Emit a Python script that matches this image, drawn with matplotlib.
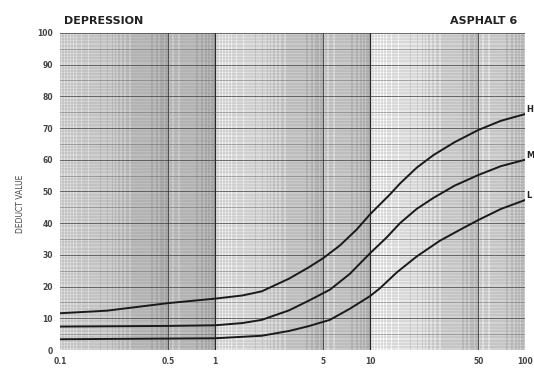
import numpy as np
import matplotlib.pyplot as plt

# values
x_h = [0.1, 0.2, 0.5, 1, 1.5, 2, 3, 4, 5, 6.4, 8.2, 10, 13.4, 15.6, 20, 25.7, 35, 50, 70, 100]
y_h = [11.6, 12.4, 14.8, 16.2, 17.2, 18.5, 22.5, 26, 29, 33, 38, 42.8, 49, 52.5, 57.5, 61.5, 65.5, 69.4, 72.3, 74.4]
x_m = [0.1, 0.5, 1, 1.5, 2, 3, 4, 5.5, 7.4, 10, 12.8, 15.6, 20, 25.7, 35, 50, 70, 100]
y_m = [7.4, 7.6, 7.8, 8.5, 9.5, 12.5, 15.5, 19, 24, 30.5, 35.5, 40, 44.5, 48, 51.8, 55.2, 58, 60]
x_l = [0.1, 1, 2, 3, 4, 5.5, 7.4, 10, 11.6, 14.9, 20, 28.3, 40, 50, 70, 100]
y_l = [3.4, 3.7, 4.5, 6, 7.5, 9.5, 13, 17, 19.5, 24.5, 29.5, 34.5, 38.5, 41, 44.5, 47.3]
curve_labels = ['H', 'M', 'L']
xtick_vals = [0.1, 0.5, 1, 5, 10, 50, 100]
xtick_text = ['0.1', '0.5', '1', '5', '10', '50', '100']

fig = plt.figure(figsize=(5.34, 3.70), dpi=100)
ax = fig.add_axes([0.1124, 0.054, 0.8708, 0.857])
ax.set_xscale('log')
ax.set_xlim(0.1, 100)
ax.set_ylim(0, 100)

# graph paper: evenly spaced mantissa lines get denser (darker) toward each decade end
ax.axvspan(0.1, 1, color='#888888', alpha=0.22, lw=0, zorder=0)
ax.axvspan(1, 10, color='#999999', alpha=0.1, lw=0, zorder=0)
vlines = []
for dec in [0.1, 1, 10]:
    for m in np.arange(1.0, 5.0, 0.05):
        vlines.append(m * dec)
    for m in np.arange(5.0, 10.0, 0.1):
        vlines.append(m * dec)
for v in vlines:
    ax.axvline(v, color='#3c3c3c', lw=0.35, alpha=0.5, zorder=0)
for v in [0.5, 5, 50]:
    ax.axvline(v, color='#333333', lw=0.8, alpha=0.8, zorder=0)
for v in [1, 10]:
    ax.axvline(v, color='#222222', lw=0.9, zorder=0)

for yy in np.arange(0, 100.5, 1):
    if yy % 10 == 0:
        ax.axhline(yy, color='#333333', lw=0.6, alpha=0.8, zorder=0)
    elif yy % 5 == 0:
        ax.axhline(yy, color='#555555', lw=0.45, alpha=0.7, zorder=0)
    else:
        ax.axhline(yy, color='#666666', lw=0.3, alpha=0.55, zorder=0)

ax.plot(x_h, y_h, color='#1a1a1a', lw=1.4, zorder=3)
ax.plot(x_m, y_m, color='#1a1a1a', lw=1.4, zorder=3)
ax.plot(x_l, y_l, color='#1a1a1a', lw=1.4, zorder=3)

for lab, yv in zip(curve_labels, [y_h[-1], y_m[-1], y_l[-1]]):
    ax.text(1.003, yv + 1.5, lab, transform=ax.get_yaxis_transform(),
            fontsize=6, fontweight='bold', color='#222222', va='center',
            clip_on=False)

ax.set_xticks(xtick_vals)
ax.set_xticklabels(xtick_text)
ax.xaxis.set_minor_locator(plt.NullLocator())
ax.set_yticks(np.arange(0, 101, 10))
ax.tick_params(axis='both', labelsize=5.5, length=0, pad=5, colors='#444444')
for t in ax.get_xticklabels() + ax.get_yticklabels():
    t.set_fontweight('bold')
for s in ax.spines.values():
    s.set_visible(False)

ax.set_ylabel('DEDUCT VALUE', fontsize=5.5, color='#444444', labelpad=9, y=0.46)
fig.text(0.12, 0.935, 'DEPRESSION', fontsize=8, fontweight='bold', color='#222222')
fig.text(0.968, 0.935, 'ASPHALT 6', fontsize=8, fontweight='bold', color='#222222', ha='right')

fig.savefig('out.png', dpi=100)
